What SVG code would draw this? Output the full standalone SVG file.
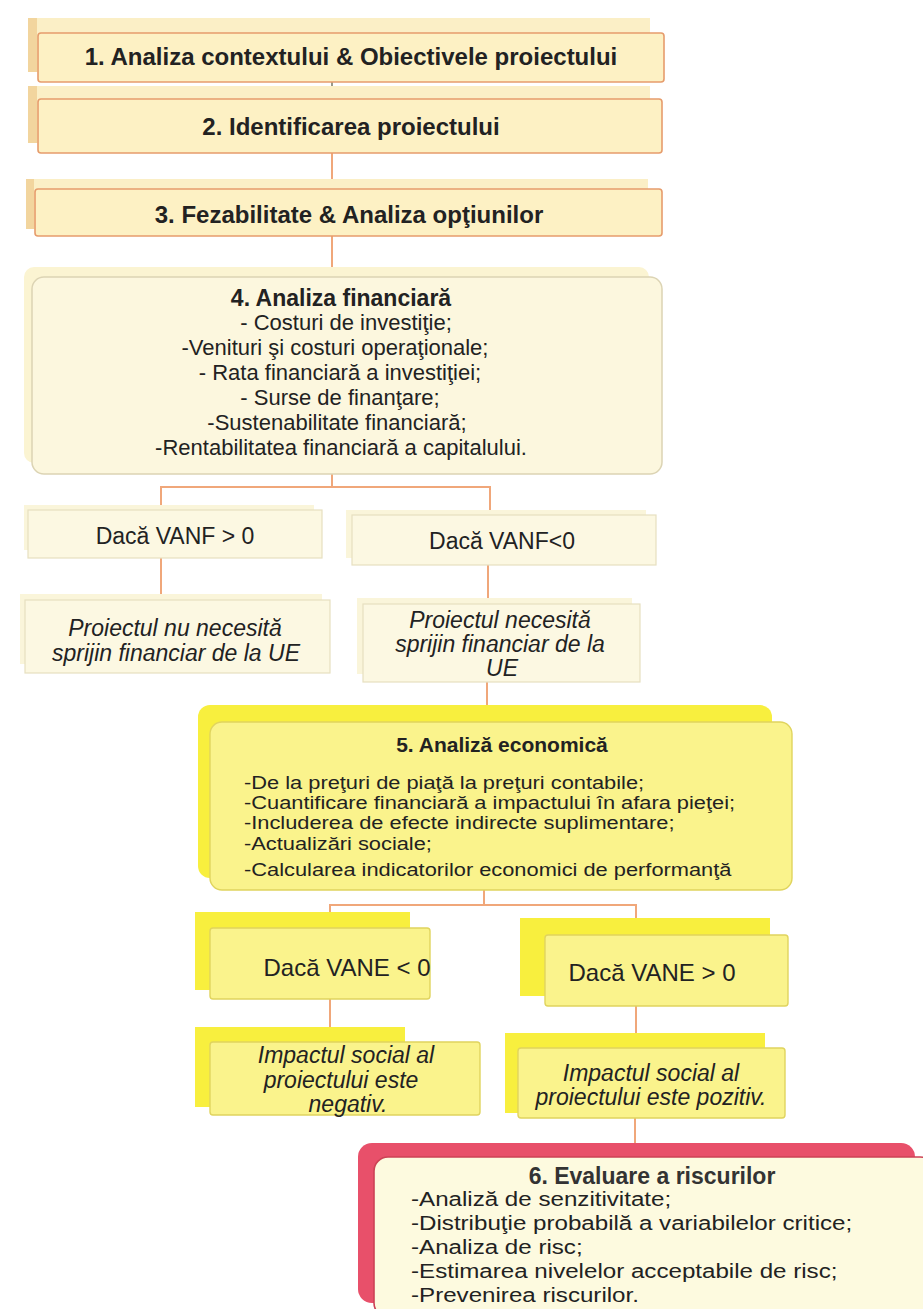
<svg xmlns="http://www.w3.org/2000/svg" width="923" height="1309" viewBox="0 0 923 1309">
<style>
text{font-family:"Liberation Sans",Arial,sans-serif;fill:#222;}
.t{font-weight:bold;font-size:24px;text-anchor:middle;}
.c{text-anchor:middle;}
.i{font-style:italic;text-anchor:middle;font-size:23px;}
.bk1{fill:#FBEFC6;}
.bl1{fill:#F2D59E;}
.b1{fill:#FDF1C4;stroke:#E69C6C;stroke-width:1.6;}
.bk4{fill:#FBF4D2;}
.b4{fill:#FCF7DE;stroke:#DCD4B4;stroke-width:1.5;}
.bkv{fill:#FAF5DA;}
.bv{fill:#FCF8E2;stroke:#E6DFC0;stroke-width:1.2;}
.bky{fill:#F8EF3E;}
.by{fill:#FAF38C;stroke:#E0D45E;stroke-width:1.4;}
.bkr{fill:#E8506A;}
.br{fill:#FDFADF;stroke:#CC4255;stroke-width:1.6;}
.ln{stroke:#F0A77A;stroke-width:2;fill:none;}
</style>
<rect width="923" height="1309" fill="#FFFFFF"/>
<g id="connectors">
<path class="ln" d="M332 82V100" style="stroke:#9A9A8A"/>
<path class="ln" d="M332 153V190"/>
<path class="ln" d="M332 236V278"/>
<path class="ln" d="M332 474V487M161 510V487H490V515"/>
<path class="ln" d="M161 557V600"/>
<path class="ln" d="M488 565V605"/>
<path class="ln" d="M487 682V722"/>
<path class="ln" d="M484 890V905M330 928V905H636V935"/>
<path class="ln" d="M330 998V1042"/>
<path class="ln" d="M636 1005V1048"/>
<path class="ln" d="M635 1118V1158"/>
</g>
<g id="n1">
<rect class="bk1" x="28" y="18" width="622" height="54"/>
<rect class="bl1" x="28" y="18" width="9" height="54"/>
<rect class="b1" x="38" y="33" width="626" height="49" rx="3"/>
<text class="t" x="351" y="65">1. Analiza contextului &amp; Obiectivele proiectului</text>
</g>
<g id="n2">
<rect class="bk1" x="28" y="86" width="622" height="57"/>
<rect class="bl1" x="28" y="86" width="9" height="57"/>
<rect class="b1" x="38" y="99" width="624" height="54" rx="3"/>
<text class="t" x="351" y="135">2. Identificarea proiectului</text>
</g>
<g id="n3">
<rect class="bk1" x="26" y="179" width="622" height="50"/>
<rect class="bl1" x="26" y="179" width="8" height="50"/>
<rect class="b1" x="35" y="189" width="627" height="47" rx="3"/>
<text class="t" x="349" y="223">3. Fezabilitate &amp; Analiza opţiunilor</text>
</g>
<g id="n4">
<rect class="bk4" x="24" y="267" width="625" height="196" rx="10"/>
<rect class="b4" x="32" y="277" width="630" height="197" rx="12"/>
<text class="t" x="341" y="306" style="font-size:23px">4. Analiza financiară</text>
<g style="font-size:22px" class="c">
<text x="346" y="330">- Costuri de investiţie;</text>
<text x="335" y="355">-Venituri şi costuri operaţionale;</text>
<text x="340" y="380">- Rata financiară a investiţiei;</text>
<text x="340" y="405">- Surse de finanţare;</text>
<text x="337" y="430">-Sustenabilitate financiară;</text>
<text x="341" y="455">-Rentabilitatea financiară a capitalului.</text>
</g>
</g>
<g id="n4a">
<rect class="bkv" x="24" y="505" width="290" height="45"/>
<rect class="bv" x="28" y="510" width="294" height="48"/>
<text class="c" x="175" y="544" style="font-size:23px">Dacă VANF &gt; 0</text>
</g>
<g id="n4b">
<rect class="bkv" x="346" y="510" width="300" height="48"/>
<rect class="bv" x="352" y="515" width="304" height="50"/>
<text class="c" x="502" y="549" style="font-size:23px">Dacă VANF&lt;0</text>
</g>
<g id="n4c">
<rect class="bkv" x="20" y="594" width="302" height="70"/>
<rect class="bv" x="25" y="600" width="305" height="73"/>
<text class="i" x="175" y="636">Proiectul nu necesită</text>
<text class="i" x="176" y="661">sprijin financiar de la UE</text>
</g>
<g id="n4d">
<rect class="bkv" x="357" y="598" width="275" height="76"/>
<rect class="bv" x="363" y="604" width="277" height="78"/>
<text class="i" x="500" y="628">Proiectul necesită</text>
<text class="i" x="500" y="652">sprijin financiar de la</text>
<text class="i" x="502" y="676">UE</text>
</g>
<g id="n5">
<rect class="bky" x="198" y="705" width="574" height="173" rx="12"/>
<rect class="by" x="210" y="722" width="582" height="168" rx="12"/>
<text class="t" x="502" y="752" style="font-size:21px">5. Analiză economică</text>
<g style="font-size:18.5px">
<text transform="translate(244 789) scale(1.18 1)">-De la preţuri de piaţă la preţuri contabile;</text>
<text transform="translate(244 809) scale(1.18 1)">-Cuantificare financiară a impactului în afara pieţei;</text>
<text transform="translate(244 829) scale(1.18 1)">-Includerea de efecte indirecte suplimentare;</text>
<text transform="translate(244 850) scale(1.18 1)">-Actualizări sociale;</text>
<text transform="translate(244 876) scale(1.18 1)">-Calcularea indicatorilor economici de performanţă</text>
</g>
</g>
<g id="n5a">
<rect class="bky" x="195" y="912" width="215" height="78"/>
<rect class="by" x="210" y="928" width="220" height="71" rx="3"/>
<text class="c" x="347" y="976" style="font-size:24px">Dacă VANE &lt; 0</text>
</g>
<g id="n5b">
<rect class="bky" x="520" y="918" width="250" height="78"/>
<rect class="by" x="545" y="935" width="243" height="71" rx="3"/>
<text class="c" x="652" y="981" style="font-size:24px">Dacă VANE &gt; 0</text>
</g>
<g id="n5c">
<rect class="bky" x="195" y="1027" width="210" height="80"/>
<rect class="by" x="210" y="1042" width="270" height="73" rx="3"/>
<text class="i" x="346" y="1063">Impactul social al</text>
<text class="i" x="341" y="1088">proiectului este</text>
<text class="i" x="348" y="1112">negativ.</text>
</g>
<g id="n5d">
<rect class="bky" x="505" y="1033" width="260" height="80"/>
<rect class="by" x="518" y="1048" width="267" height="70" rx="3"/>
<text class="i" x="651" y="1081">Impactul social al</text>
<text class="i" x="651" y="1105">proiectului este pozitiv.</text>
</g>
<g id="n6">
<rect class="bkr" x="358" y="1143" width="557" height="160" rx="14"/>
<rect class="br" x="374" y="1157" width="560" height="160" rx="14"/>
<text class="c" x="652" y="1184" style="font-size:23px;font-weight:bold;fill:#333">6. Evaluare a riscurilor</text>
<g style="font-size:21px">
<text transform="translate(411 1206) scale(1.15 1)">-Analiză de senzitivitate;</text>
<text transform="translate(411 1230) scale(1.15 1)">-Distribuţie probabilă a variabilelor critice;</text>
<text transform="translate(411 1254) scale(1.15 1)">-Analiza de risc;</text>
<text transform="translate(411 1278) scale(1.15 1)">-Estimarea nivelelor acceptabile de risc;</text>
<text transform="translate(411 1302) scale(1.15 1)">-Prevenirea riscurilor.</text>
</g>
</g>
</svg>
